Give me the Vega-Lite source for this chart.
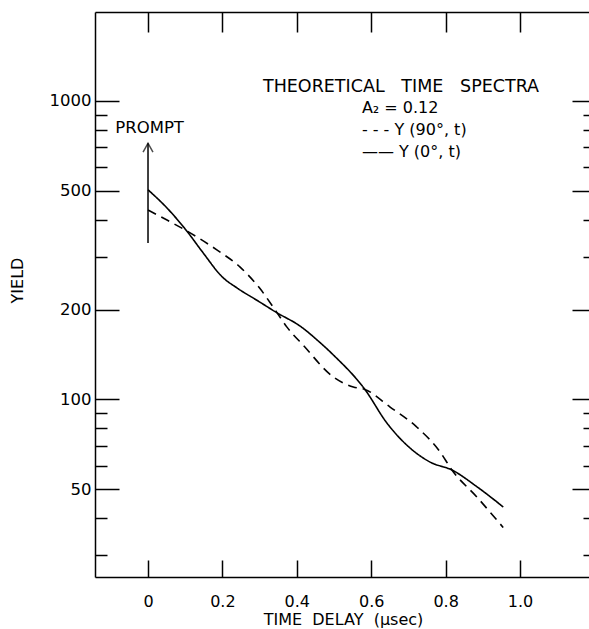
{
  "$schema": "https://vega.github.io/schema/vega-lite/v6.json",
  "width": 494,
  "height": 565,
  "autosize": {"type": "none"},
  "padding": {"left": 95, "top": 12, "right": 0, "bottom": 52},
  "background": "white",
  "config": {
    "font": "DejaVu Sans",
    "view": {"stroke": null},
    "axis": {"domainColor": "black", "tickColor": "black", "labelColor": "black", "titleColor": "black", "grid": false, "domainWidth": 1.5, "tickWidth": 1.5}
  },
  "datasets": {
    "curves": [
      {"t": 0.0, "yield": 504, "series": "Y(0°, t)"},
      {"t": 0.051, "yield": 438, "series": "Y(0°, t)"},
      {"t": 0.104, "yield": 367, "series": "Y(0°, t)"},
      {"t": 0.148, "yield": 310, "series": "Y(0°, t)"},
      {"t": 0.2, "yield": 257, "series": "Y(0°, t)"},
      {"t": 0.24, "yield": 236, "series": "Y(0°, t)"},
      {"t": 0.295, "yield": 214, "series": "Y(0°, t)"},
      {"t": 0.347, "yield": 195, "series": "Y(0°, t)"},
      {"t": 0.409, "yield": 176, "series": "Y(0°, t)"},
      {"t": 0.46, "yield": 156, "series": "Y(0°, t)"},
      {"t": 0.498, "yield": 141, "series": "Y(0°, t)"},
      {"t": 0.583, "yield": 108, "series": "Y(0°, t)"},
      {"t": 0.642, "yield": 83.4, "series": "Y(0°, t)"},
      {"t": 0.704, "yield": 68.8, "series": "Y(0°, t)"},
      {"t": 0.76, "yield": 61.5, "series": "Y(0°, t)"},
      {"t": 0.817, "yield": 58, "series": "Y(0°, t)"},
      {"t": 0.884, "yield": 51, "series": "Y(0°, t)"},
      {"t": 0.955, "yield": 43.6, "series": "Y(0°, t)"},
      {"t": 0.0, "yield": 431, "series": "Y(90°, t)"},
      {"t": 0.051, "yield": 399, "series": "Y(90°, t)"},
      {"t": 0.104, "yield": 367, "series": "Y(90°, t)"},
      {"t": 0.185, "yield": 317, "series": "Y(90°, t)"},
      {"t": 0.247, "yield": 278, "series": "Y(90°, t)"},
      {"t": 0.3, "yield": 236, "series": "Y(90°, t)"},
      {"t": 0.347, "yield": 195, "series": "Y(90°, t)"},
      {"t": 0.373, "yield": 175, "series": "Y(90°, t)"},
      {"t": 0.417, "yield": 152, "series": "Y(90°, t)"},
      {"t": 0.498, "yield": 119, "series": "Y(90°, t)"},
      {"t": 0.552, "yield": 110, "series": "Y(90°, t)"},
      {"t": 0.583, "yield": 108, "series": "Y(90°, t)"},
      {"t": 0.65, "yield": 94.4, "series": "Y(90°, t)"},
      {"t": 0.722, "yield": 80.9, "series": "Y(90°, t)"},
      {"t": 0.785, "yield": 66.7, "series": "Y(90°, t)"},
      {"t": 0.817, "yield": 58, "series": "Y(90°, t)"},
      {"t": 0.884, "yield": 47.1, "series": "Y(90°, t)"},
      {"t": 0.955, "yield": 37.2, "series": "Y(90°, t)"}
    ],
    "prompt": [{"t": 0, "lo": 334, "hi": 722, "label": "PROMPT", "ly": 812, "lt": -0.088}],
    "heading": [{"t": 0.309, "yield": 1110, "text": "THEORETICAL\u00a0\u00a0\u00a0TIME\u00a0\u00a0\u00a0SPECTRA"}],
    "notes": [
      {"t": 0.575, "yield": 947, "text": "A₂ = 0.12"},
      {"t": 0.575, "yield": 800, "text": "- - - Y (90°, t)"},
      {"t": 0.575, "yield": 675, "text": "—— Y (0°, t)"}
    ]
  },
  "resolve": {"axis": {"x": "independent", "y": "independent"}},
  "layer": [
    {
      "data": {"name": "curves"},
      "mark": {"type": "line", "interpolate": "monotone", "color": "black", "strokeWidth": 1.6},
      "encoding": {
        "x": {"field": "t", "type": "quantitative",
              "scale": {"domain": [-0.1425, 1.1855], "nice": false, "zero": false},
              "axis": {"orient": "bottom", "values": [0, 0.2, 0.4, 0.6, 0.8, 1.0], "tickSize": -17,
                       "labelExpr": "datum.value == 0 ? '0' : format(datum.value, '.1f')",
                       "labelFontSize": 16, "labelPadding": 41, "labelBaseline": "middle",
                       "title": "TIME\u00a0\u00a0DELAY\u00a0\u00a0(μsec)", "titleFontSize": 16, "titleFontWeight": "normal",
                       "titleX": 248, "titleY": 42, "titleBaseline": "middle"}},
        "y": {"field": "yield", "type": "quantitative",
              "scale": {"type": "log", "domain": [25.4, 1987], "nice": false},
              "axis": {"orient": "left",
                       "values": [30, 40, 50, 60, 70, 80, 90, 100, 200, 300, 400, 500, 600, 700, 800, 900, 1000],
                       "tickSize": {"condition": {"test": "indexof([50,100,200,500,1000], datum.value) >= 0", "value": -24}, "value": -12},
                       "labelExpr": "indexof([50,100,200,500,1000], datum.value) >= 0 ? datum.value : ''",
                       "labelFontSize": 16.5, "labelPadding": 28,
                       "title": "YIELD", "titleFontSize": 16, "titleFontWeight": "normal",
                       "titleX": -78, "titleY": 268, "titleBaseline": "middle", "titleAngle": -90}},
        "strokeDash": {"field": "series", "type": "nominal",
                       "scale": {"domain": ["Y(0°, t)", "Y(90°, t)"], "range": [[1, 0], [9, 6]]},
                       "legend": null}
      }
    },
    {
      "data": {"name": "prompt"},
      "mark": {"type": "rule", "color": "black", "strokeWidth": 1.5},
      "encoding": {
        "x": {"field": "t", "type": "quantitative",
              "axis": {"orient": "top", "values": [0, 0.2, 0.4, 0.6, 0.8, 1.0], "tickSize": -20, "labels": false, "title": null}},
        "y": {"field": "lo", "type": "quantitative",
              "axis": {"orient": "right", "domain": false, "labels": false, "title": null,
                       "values": [30, 40, 50, 60, 70, 80, 90, 100, 200, 300, 400, 500, 600, 700, 800, 900, 1000],
                       "tickSize": {"condition": {"test": "indexof([50,100,200,500,1000], datum.value) >= 0", "value": -17}, "value": -6}}},
        "y2": {"field": "hi"}
      }
    },
    {
      "data": {"name": "prompt"},
      "mark": {"type": "point", "shape": "M-0.55,1L0,0L0.55,1", "size": 324, "filled": false, "stroke": "black", "strokeWidth": 1.5},
      "encoding": {
        "x": {"field": "t", "type": "quantitative", "axis": null},
        "y": {"field": "hi", "type": "quantitative", "axis": null}
      }
    },
    {
      "data": {"name": "prompt"},
      "mark": {"type": "text", "align": "left", "baseline": "middle", "fontSize": 16.5, "color": "black"},
      "encoding": {
        "x": {"field": "lt", "type": "quantitative", "axis": null},
        "y": {"field": "ly", "type": "quantitative", "axis": null},
        "text": {"field": "label"}
      }
    },
    {
      "data": {"name": "heading"},
      "mark": {"type": "text", "align": "left", "baseline": "middle", "fontSize": 17.5, "color": "black"},
      "encoding": {
        "x": {"field": "t", "type": "quantitative", "axis": null},
        "y": {"field": "yield", "type": "quantitative", "axis": null},
        "text": {"field": "text"}
      }
    },
    {
      "data": {"name": "notes"},
      "mark": {"type": "text", "align": "left", "baseline": "middle", "fontSize": 16, "color": "black"},
      "encoding": {
        "x": {"field": "t", "type": "quantitative", "axis": null},
        "y": {"field": "yield", "type": "quantitative", "axis": null},
        "text": {"field": "text"}
      }
    }
  ]
}
